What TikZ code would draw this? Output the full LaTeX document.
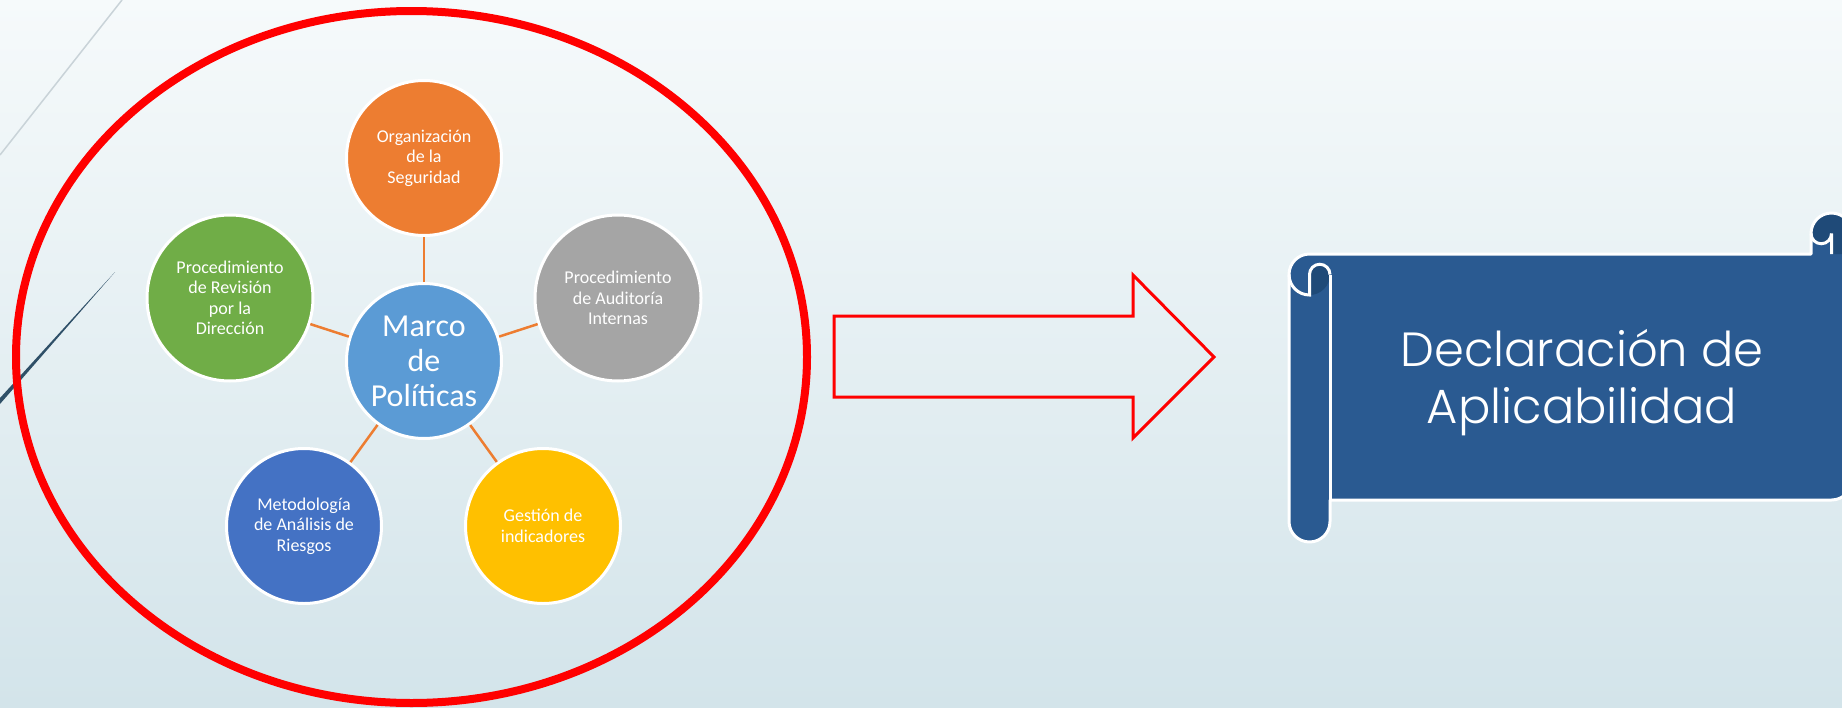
\documentclass[tikz,border=0pt]{standalone}
\usepackage{fontspec}
\setmainfont{Carlito}
\newfontfamily\declfont{Poppins Light}
\begin{document}
\begin{tikzpicture}[x=1pt,y=-1pt,
  bub/.style={circle, draw=white, line width=3pt, inner sep=0pt, text=white, align=center,
    font=\fontsize{18}{20.5}\selectfont},
  conn/.style={draw=orange1, line width=2.5pt},
]
\definecolor{orange1}{HTML}{ED7D31}
\definecolor{grayc}{HTML}{A5A5A5}
\definecolor{greenc}{HTML}{70AD47}
\definecolor{bluec}{HTML}{5B9BD5}
\definecolor{dblue}{HTML}{4472C4}
\definecolor{yellowc}{HTML}{FFC000}
\definecolor{bgtop}{HTML}{F6FAFB}
\definecolor{bgbot}{HTML}{D3E4EA}
\definecolor{scrollc}{HTML}{2A5A91}
\definecolor{scrolld}{HTML}{1F4A78}
\definecolor{decog}{HTML}{C9D3D8}
\definecolor{decod}{HTML}{2F5068}
% background
\shade[top color=bgtop, bottom color=bgbot] (0,0) rectangle (1842,707);
\useasboundingbox (0,0) rectangle (1842,707);
% decorative lines
\draw[decog, line width=1.5pt] (122,0) -- (0,155);
\fill[decod] (115,272) -- (0,398) -- (0,404) -- cycle;
% red ellipse
\draw[red, line width=8pt] (411.5,357) ellipse [x radius=395.5pt, y radius=346pt];
% bubbles
\node[bub, fill=bluec, minimum size=155pt, font=\fontsize{32}{35}\selectfont] (c) at (424,361) {Marco\\de\\Políticas};
\node[bub, fill=orange1, minimum size=155pt] (o) at (424,158) {Organización\\de la\\Seguridad};
\node[bub, fill=grayc, minimum size=166pt] (g) at (618,298) {Procedimiento\\de Auditoría\\Internas};
\node[bub, fill=yellowc, minimum size=155pt] (y) at (543,526) {Gestión de\\indicadores};
\node[bub, fill=dblue, minimum size=155pt] (m) at (304,526) {Metodología\\de Análisis de\\Riesgos};
\node[bub, fill=greenc, minimum size=166pt] (p) at (230,298) {Procedimiento\\de Revisión\\por la\\Dirección};
\draw[conn] (c) -- (o);
\draw[conn] (c) -- (g);
\draw[conn] (c) -- (y);
\draw[conn] (c) -- (m);
\draw[conn] (c) -- (p);
% block arrow
\draw[red, line width=3pt, line join=miter] (834,316) -- (1133,316) -- (1133,275) -- (1214,357) -- (1133,438) -- (1133,397) -- (834,397) -- cycle;
% scroll
\fill[scrollc] (1309.5,254) -- (1811,254) -- (1811,233.5)
  arc[start angle=180, end angle=0, radius=20.5pt] -- (1852,479.5)
  arc[start angle=0, end angle=-90, radius=20.5pt] -- (1330,500) -- (1330,521.5)
  arc[start angle=0, end angle=-180, radius=20.5pt] -- (1289,274.5)
  arc[start angle=180, end angle=90, radius=20.5pt] -- cycle;
\fill[scrolld] (1811,233.5) arc[start angle=180, end angle=0, radius=20.5pt] -- (1852,254) -- (1831.5,254) -- (1831.5,233.5)
  arc[start angle=0, end angle=-180, radius=10.25pt] -- cycle;
\fill[scrolld] (1309.5,295) -- (1309.5,274.5) arc[start angle=180, end angle=0, radius=10.25pt]
  arc[start angle=0, end angle=-90, radius=20.5pt] -- cycle;
\draw[white, line width=3pt, line join=round] (1309.5,254) -- (1811,254) -- (1811,233.5)
  arc[start angle=180, end angle=0, radius=20.5pt] -- (1852,479.5)
  arc[start angle=0, end angle=-90, radius=20.5pt] -- (1330,500) -- (1330,521.5)
  arc[start angle=0, end angle=-180, radius=20.5pt] -- (1289,274.5)
  arc[start angle=180, end angle=90, radius=20.5pt] -- cycle;
\draw[white, line width=3pt] (1330,274.5) -- (1330,500);
\draw[white, line width=3pt] (1289,274.5) arc[start angle=180, end angle=270, radius=20.5pt] -- (1309.5,274.5)
  arc[start angle=180, end angle=0, radius=10.25pt];
\draw[white, line width=3pt] (1831.5,254) -- (1831.5,233.5) arc[start angle=0, end angle=-180, radius=10.25pt];
\node[text=white, align=center, font=\declfont\fontsize{48}{57}\selectfont] (decl) at (1582,383) {Declaración de\\Aplicabilidad};
\end{tikzpicture}
\end{document}
